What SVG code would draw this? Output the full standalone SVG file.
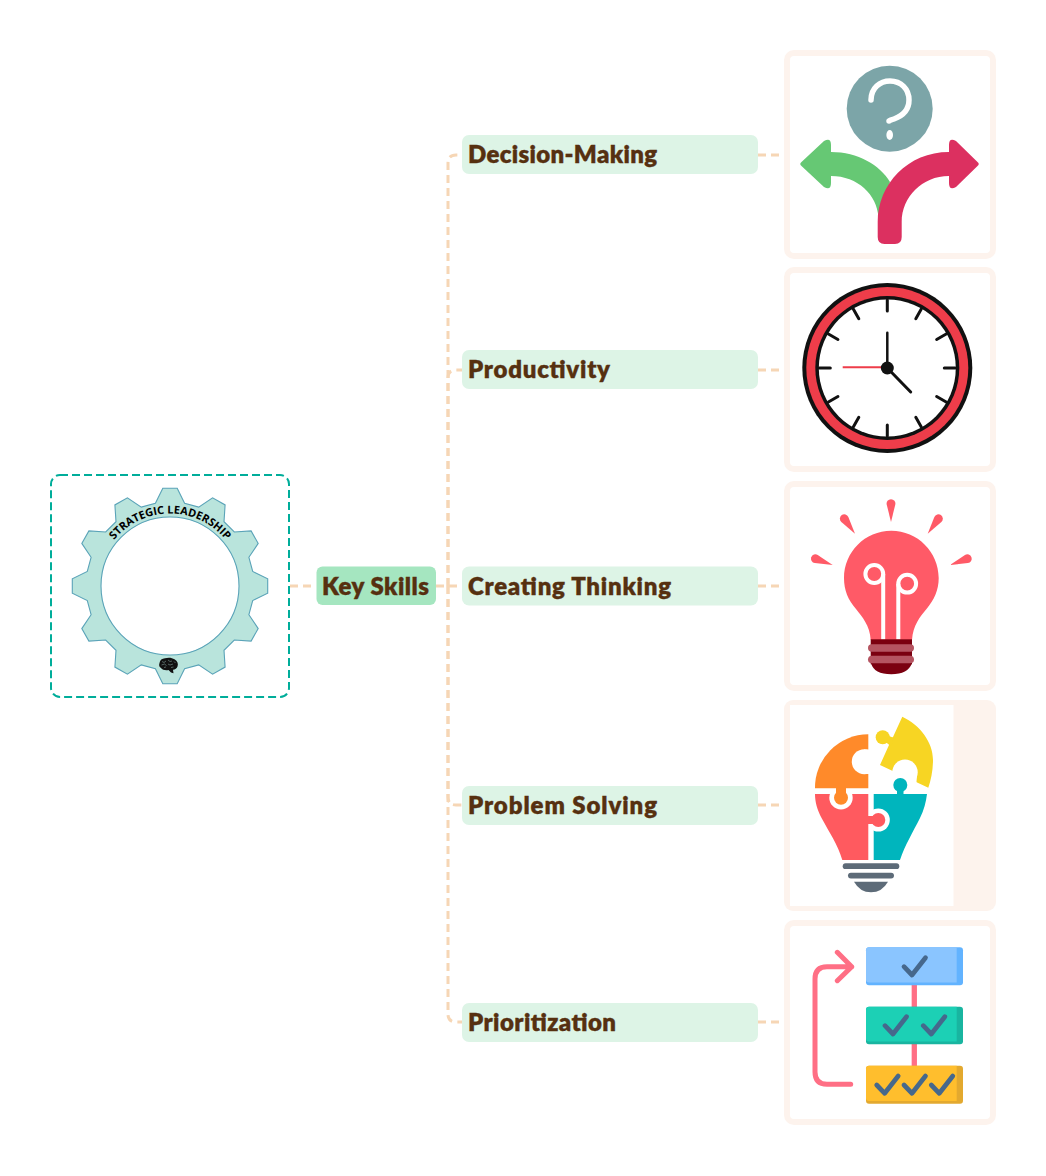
<svg xmlns="http://www.w3.org/2000/svg" width="1046" height="1176" viewBox="0 0 1046 1176">
<style>
.conn{fill:none;stroke:#f6d6b5;stroke-width:3;stroke-dasharray:8 5}
.node{fill:#ddf4e6}
.lbl{font-family:"Lato","Liberation Sans",sans-serif;font-weight:800;font-size:24px;fill:#563010;stroke:#563010;stroke-width:.35}
.frame{fill:#fff;stroke:#fdf3ed;stroke-width:6}
.tick{stroke:#111;stroke-width:3;stroke-linecap:round}
.ray{fill:#ff5a67}
.chk{fill:none;stroke:#46688c;stroke-width:4.7;stroke-linecap:round;stroke-linejoin:round}
.wire{fill:none;stroke:#fff;stroke-width:4}
</style>
<defs>
<path id="ray" d="M0,0L-4.3,-17.500A4.400,4.400 0 1 1 4.300,-17.500Z"/>
<path id="chk" d="M0,0l8,8.300l13.500,-17.300"/>
<line id="tick" x1="0" y1="-68" x2="0" y2="-57"/>
<path id="arcTop" d="M99,573.500A72,72 0 0 1 241,573.500"/>
</defs>
<rect width="1046" height="1176" fill="#fff"/>

<g id="connectors">
<path class="conn" d="M290,586H316"/>
<path class="conn" d="M436,586H462"/>
<path class="conn" d="M448,586V163Q448,155 456,155H462"/>
<path class="conn" d="M448,586V378Q448,370 456,370H462"/>
<path class="conn" d="M448,586V797Q448,805 456,805H462"/>
<path class="conn" d="M448,586V1014Q448,1022 456,1022H462"/>
<path class="conn" d="M758,155H785"/>
<path class="conn" d="M758,370H785"/>
<path class="conn" d="M758,586H785"/>
<path class="conn" d="M758,805H785"/>
<path class="conn" d="M758,1022H785"/>
</g>

<g id="gear-node">
<rect x="51" y="475" width="238" height="222" rx="9" fill="#fff" stroke="#00ad9a" stroke-width="2" stroke-dasharray="8 4"/>
<path fill="#b9e4dc" stroke="#5aa3b8" stroke-width="1.100" fill-rule="evenodd" d="M177.200,488.300L184.600,503.300L198.700,507.100L212.600,497.800L225.100,504.900L224,521.700L234.300,532L251.100,530.900L258.200,543.400L248.900,557.300L252.700,571.400L267.700,578.800L267.700,593.200L252.700,600.600L248.900,614.700L258.200,628.600L251.100,641.100L234.300,640L224,650.300L225.100,667.100L212.600,674.200L198.700,664.900L184.600,668.700L177.200,683.700L162.800,683.700L155.400,668.700L141.300,664.900L127.400,674.200L114.900,667.100L116,650.300L105.700,640L88.900,641.100L81.800,628.600L91.100,614.700L87.300,600.600L72.300,593.200L72.300,578.800L87.300,571.400L91.100,557.300L81.800,543.400L88.900,530.900L105.700,532L116,521.700L114.900,504.900L127.400,497.800L141.300,507.100L155.400,503.300L162.800,488.300ZM239,586A69,69 0 1 0 101,586A69,69 0 1 0 239,586Z"/>
<text font-family="'Open Sans','Liberation Sans',sans-serif" font-weight="700" font-size="11" fill="#000"><textPath href="#arcTop" startOffset="50%" text-anchor="middle">STRATEGIC LEADERSHIP</textPath></text>
<path fill="#111" d="M159.500,663C160,660 162,658.500 165,658.300C168,657.300 172,657.500 174.500,659.300C177.500,660.800 178.500,664 177.500,666.500C177,668.500 175,669.500 173,669.800L173.500,673.300L171,672.500L168.500,670C165.500,670.800 162.500,669.800 161,668C159,667 158.800,665 159.500,663Z"/>
<path fill="none" stroke="#b9e4dc" stroke-width=".4" d="M162,661.500l2,1l2,-1.500M168,660l2,1.500l2,-.5M161.500,665l3,-1l2,1.500M168,664l2,1l3,-1M171,667.500l2.500,-.5M164,667.500l2,-.5M174,661.500l1.500,1.500"/>
</g>

<g id="key-skills">
<rect x="316.500" y="566.500" width="119.500" height="38.500" rx="6" fill="#a5e6c0"/>
<text class="lbl" x="322" y="595" textLength="107">Key Skills</text>
</g>

<g id="decision-making">
<rect class="node" x="462" y="135" width="296" height="39" rx="7"/>
<text class="lbl" x="468" y="163" textLength="189">Decision-Making</text>
</g>
<g id="productivity">
<rect class="node" x="462" y="350" width="296" height="39" rx="7"/>
<text class="lbl" x="468" y="378" textLength="142">Productivity</text>
</g>
<g id="creating-thinking">
<rect class="node" x="462" y="566.500" width="296" height="39" rx="7"/>
<text class="lbl" x="468" y="595" textLength="203">Creating Thinking</text>
</g>
<g id="problem-solving">
<rect class="node" x="462" y="786" width="296" height="39" rx="7"/>
<text class="lbl" x="468" y="814" textLength="189">Problem Solving</text>
</g>
<g id="prioritization">
<rect class="node" x="462" y="1003" width="296" height="39" rx="7"/>
<text class="lbl" x="468" y="1031" textLength="148">Prioritization</text>
</g>

<g id="image-decision">
<rect class="frame" x="787" y="53" width="206" height="203" rx="7"/>
<circle cx="889.700" cy="108.700" r="43" fill="#7ca5a8"/>
<path fill="none" stroke="#fff" stroke-width="5.500" stroke-linecap="round" d="M871,100C871,88 880,81 890,81C901,81 909,89 909,100C909,110 902,116 894,119C890,120.500 889,120.500 889,121"/>
<ellipse cx="889.700" cy="135" rx="3.300" ry="5" fill="#fff"/>
<path fill="#66c874" d="M801.500,162L824,141Q831,137 831,145L831,152C858,152 880,165 890,182L878.500,217C877,195 858,176 831,176L831,183Q831,191 824,187L801.500,166Q799,164 801.500,162Z"/>
<path fill="#dc3060" d="M949,145Q949,137 956,141L977.500,162Q980,164 977.500,166L956,187Q949,191 949,183L949,176C922,176 901.700,197 901.700,222L901.700,237Q901.700,244 895,244L884.500,244Q877.700,244 877.700,237L877.700,222C877.700,184 908,152 949,152Z"/>
</g>

<g id="image-productivity">
<rect class="frame" x="787" y="270" width="206" height="199" rx="7"/>
<circle cx="887.300" cy="368" r="85" fill="#111"/>
<circle cx="887.300" cy="368" r="81" fill="#ee3d4a"/>
<circle cx="887.300" cy="368" r="72" fill="#111"/>
<circle cx="887.300" cy="368" r="68.500" fill="#fff"/>
<g class="tick" transform="translate(887.300 368)">
<use href="#tick"/><use href="#tick" transform="rotate(30)"/><use href="#tick" transform="rotate(60)"/><use href="#tick" transform="rotate(90)"/><use href="#tick" transform="rotate(120)"/><use href="#tick" transform="rotate(150)"/><use href="#tick" transform="rotate(180)"/><use href="#tick" transform="rotate(210)"/><use href="#tick" transform="rotate(240)"/><use href="#tick" transform="rotate(270)"/><use href="#tick" transform="rotate(300)"/><use href="#tick" transform="rotate(330)"/>
</g>
<line x1="842.700" y1="367.300" x2="887" y2="367.300" stroke="#ee3d4a" stroke-width="2"/>
<line x1="887.300" y1="368" x2="887.300" y2="332.700" stroke="#111" stroke-width="2.500" stroke-linecap="round"/>
<line x1="887.300" y1="368" x2="910.700" y2="392" stroke="#111" stroke-width="3" stroke-linecap="round"/>
<circle cx="887.300" cy="368" r="6.500" fill="#111"/>
</g>

<g id="image-thinking">
<rect class="frame" x="787" y="484" width="206" height="204" rx="7"/>
<use class="ray" href="#ray" transform="translate(891 522)"/>
<use class="ray" href="#ray" transform="translate(855 533.700) rotate(-35.500)"/>
<use class="ray" href="#ray" transform="translate(927.700 533.700) rotate(35.500)"/>
<use class="ray" href="#ray" transform="translate(832.700 565) rotate(-70)"/>
<use class="ray" href="#ray" transform="translate(950 565) rotate(70)"/>
<path fill="#ff5a67" d="M870.700,640C870,625 862,617 856,609C848,600 844,590 844,578C844,552 865,530.700 891.300,530.700C917.500,530.700 938.700,552 938.700,578C938.700,590 934,600 926.500,609C920,617 913,625 912,640Z"/>
<circle class="wire" cx="874.300" cy="574" r="8.900"/>
<circle class="wire" cx="907.200" cy="583.700" r="8.900"/>
<path class="wire" d="M883.200,639.500V574M898.300,639.500V583.700"/>
<rect x="870.700" y="639.300" width="41.300" height="25" fill="#7b0010"/>
<path fill="#7b0010" d="M871,663Q874,674.300 891.300,674.300Q908,674.300 912,663Z"/>
<rect x="868" y="644.300" width="46" height="7.400" rx="3.700" fill="#b55461"/>
<rect x="868" y="655.700" width="46" height="7.600" rx="3.800" fill="#b55461"/>
</g>

<g id="image-problem">
<rect x="784" y="700" width="212" height="211" rx="9" fill="#fdf3ed"/>
<rect x="790" y="705" width="163.500" height="201" fill="#fff"/>
<path fill="#f7d523" d="M902.300,716.700C920,725 933,742 933,760C933,770 931,780 928.300,787.700L880,765L889,745L888,741L893,737L902.300,716.700Z"/>
<circle cx="882.700" cy="737.300" r="7" fill="#f7d523"/>
<path fill="#f7d523" d="M884,734L894,738L891,746L884,741Z"/>
<circle cx="905" cy="772.300" r="12.700" fill="#fff"/>
<path fill="#fff" d="M893,775L917,775.500L916,788L896,779Z"/>
<path fill="#00b5bd" d="M873.700,794H927C926,802 924,810 920,818C913,832 905,845 900,860H873.700Z"/>
<rect x="897" y="788" width="6.500" height="7" fill="#00b5bd"/>
<circle cx="900.300" cy="785" r="7" fill="#00b5bd"/>
<circle cx="878.300" cy="820" r="11.500" fill="#fff"/>
<path fill="#ff5a5f" d="M815,794H868.300V860H842.300C838,845 829,832 821.700,818.300C817,809 815,802 815,794Z"/>
<circle cx="841" cy="797.700" r="11.700" fill="#fff"/>
<rect x="868" y="816" width="6" height="8" fill="#ff5a5f"/>
<circle cx="878.300" cy="820" r="7" fill="#ff5a5f"/>
<path fill="#ff8a2a" d="M868.300,734.300V788.300H815A53.300,53.300 0 0 1 868.300,734.300Z"/>
<rect x="836" y="788" width="10" height="6" fill="#ff8a2a"/>
<circle cx="841" cy="797.700" r="7" fill="#ff8a2a"/>
<circle cx="864.300" cy="761.700" r="12.500" fill="#fff"/>
<rect x="864" y="749.500" width="6" height="24.500" fill="#fff"/>
<rect x="842.700" y="863.300" width="56.600" height="5.800" rx="2.900" fill="#5d6b78"/>
<rect x="848" y="872.700" width="46" height="5.800" rx="2.900" fill="#5d6b78"/>
<path fill="#5d6b78" d="M854,881.700H888Q882,892.300 871,892.300Q860,892.300 854,881.700Z"/>
</g>

<g id="image-prioritization">
<rect class="frame" x="787" y="923" width="206" height="199" rx="7"/>
<line x1="914.300" y1="985" x2="914.300" y2="1066" stroke="#ff6f85" stroke-width="5.300"/>
<path fill="none" stroke="#ff6f85" stroke-width="5" stroke-linecap="round" stroke-linejoin="round" d="M850.700,1084.300H827Q815,1084.300 815,1072V979Q815,966.700 827,966.700H851.700M837.300,952.300L851.700,966.700L837.300,980.700"/>
<rect x="866" y="947.300" width="97" height="38" rx="3" fill="#62b3ff"/>
<path fill="#8ac5ff" d="M869,947.300H956.700V982.600H869Q866,982.600 866,979.600V950.300Q866,947.300 869,947.300Z"/>
<rect x="866" y="1006.700" width="97" height="37.600" rx="3" fill="#19b5a0"/>
<path fill="#1cd0b5" d="M869,1006.700H956.700V1041.600H869Q866,1041.600 866,1038.600V1009.700Q866,1006.700 869,1006.700Z"/>
<rect x="866" y="1065.700" width="97" height="38" rx="3" fill="#e3a92f"/>
<path fill="#ffbe2d" d="M869,1065.700H956.700V1101H869Q866,1101 866,1098V1068.700Q866,1065.700 869,1065.700Z"/>
<use class="chk" href="#chk" transform="translate(904 966.700)"/>
<use class="chk" href="#chk" transform="translate(885 1025.700)"/>
<use class="chk" href="#chk" transform="translate(923.300 1025.700)"/>
<use class="chk" href="#chk" transform="translate(876.700 1085)"/>
<use class="chk" href="#chk" transform="translate(904 1085)"/>
<use class="chk" href="#chk" transform="translate(931.300 1085)"/>
</g>
</svg>
